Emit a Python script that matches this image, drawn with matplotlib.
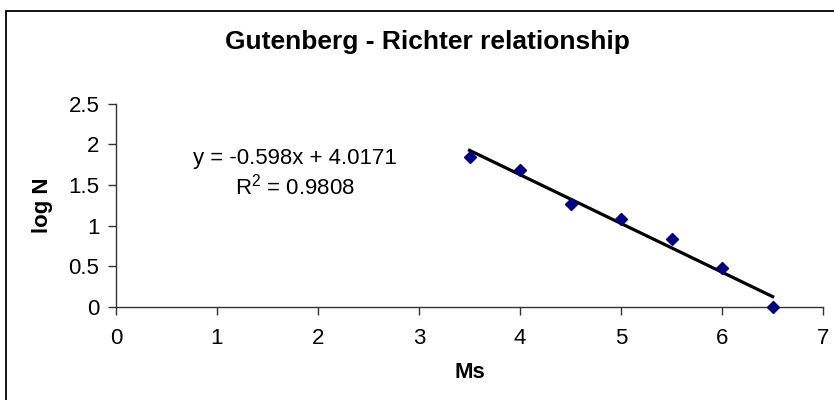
import matplotlib.pyplot as plt
from matplotlib.patches import Rectangle
import numpy as np

plt.rcParams['font.family'] = ['Liberation Sans', 'DejaVu Sans']
plt.rcParams['mathtext.fontset'] = 'custom'
plt.rcParams['mathtext.rm'] = 'Liberation Sans'

# magnitude classes and log of number of events
ms = [3.5, 4.0, 4.5, 5.0, 5.5, 6.0, 6.5]
log_n = [1.85, 1.68, 1.265, 1.087, 0.833, 0.48, 0.0]

x_ticks = [0, 1, 2, 3, 4, 5, 6, 7]
y_ticks = [0, 0.5, 1, 1.5, 2, 2.5]
y_tick_labels = ['0', '0.5', '1', '1.5', '2', '2.5']

slope, intercept = np.polyfit(ms, log_n, 1)
x_fit = np.array([min(ms), max(ms)])
y_fit = slope * x_fit + intercept

fig = plt.figure(figsize=(8.34, 4.0), dpi=100)
ax = fig.add_axes([0.139, 0.232, 0.848, 0.509])

# chart border
fig.patches.append(Rectangle((6 / 834, -0.1), 1.1, 1 - 11 / 400 + 0.1,
                             transform=fig.transFigure, fill=False,
                             edgecolor='black', linewidth=1.3))

ax.plot(x_fit, y_fit, color='black', linewidth=2.3, zorder=2)
ax.plot(ms, log_n, linestyle='none', marker='D', markersize=6.5,
        color='#000080', zorder=3, clip_on=False)

ax.text(1.77, 1.64, 'y = -0.598x + 4.0171\nR$^2$ = 0.9808', ha='center', va='center',
        multialignment='center', fontsize=16, linespacing=1.25)

ax.set_xlim(0, 7)
ax.set_ylim(0, 2.5)
ax.set_xticks(x_ticks)
ax.set_yticks(y_ticks)
ax.set_yticklabels(y_tick_labels)
ax.tick_params(axis='both', direction='out', length=6, width=1, color='#333333', labelsize=16)
ax.tick_params(axis='x', pad=9)
ax.tick_params(axis='y', pad=6)

for side in ['top', 'right']:
    ax.spines[side].set_visible(False)
for side in ['left', 'bottom']:
    ax.spines[side].set_color('#333333')
    ax.spines[side].set_linewidth(1)

ax.set_xlabel('Ms', fontsize=16, fontweight='bold')
ax.set_ylabel('log N', fontsize=16, fontweight='bold')
ax.xaxis.set_label_coords(0.5, -0.32)
ax.xaxis.label.set_va('center')
ax.yaxis.set_label_coords(-0.1045, 0.5)
ax.yaxis.label.set_va('center')

fig.text(0.512, 1 - 49 / 400, 'Gutenberg - Richter relationship', ha='center', va='baseline',
         fontsize=19, fontweight='bold')

fig.savefig('out.png', dpi=100)
